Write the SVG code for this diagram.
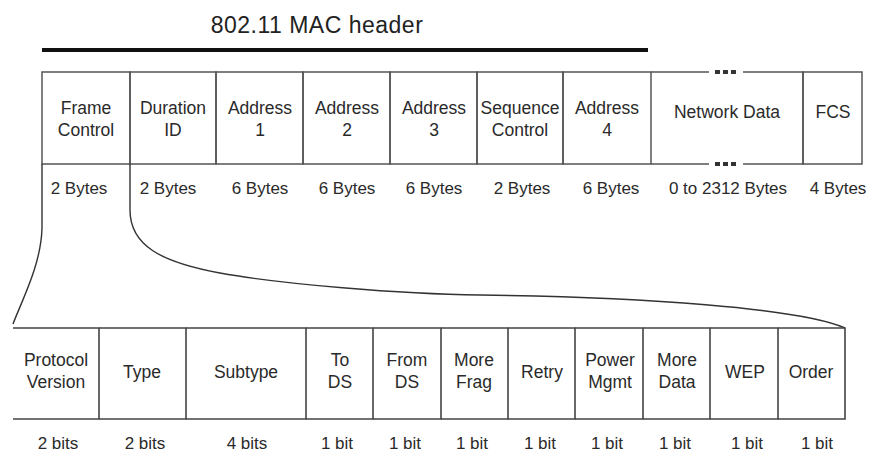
<svg xmlns="http://www.w3.org/2000/svg" width="870" height="452" viewBox="0 0 870 452">
<style>
.bg{fill:#ffffff}
.cell{fill:none;stroke:#555;stroke-width:1.5}
.div{fill:none;stroke:#444;stroke-width:1.6}
.t{font-family:"Liberation Sans",Arial,sans-serif;font-size:17.5px;fill:#2a2a2a;text-anchor:middle}
.s{font-family:"Liberation Sans",Arial,sans-serif;font-size:17px;fill:#2a2a2a;text-anchor:middle}
.title{font-family:"Liberation Sans",Arial,sans-serif;font-size:23px;fill:#222;text-anchor:middle;letter-spacing:0.5px}
.conn{fill:none;stroke:#333;stroke-width:1.4}
.dot{fill:#333}
</style>
<rect class="bg" x="0" y="0" width="870" height="452"/>

<g id="header-label">
<text class="title" x="317" y="33">802.11 MAC header</text>
<rect x="42" y="48" width="606" height="4" fill="#111"/>
</g>

<g id="frame-control">
<rect class="cell" x="42" y="72" width="88" height="92"/>
<text class="t" x="86" y="114">Frame</text>
<text class="t" x="86" y="136">Control</text>
<text class="s" x="79" y="194">2 Bytes</text>
</g>
<g id="duration-id">
<rect class="cell" x="130" y="72" width="86" height="92"/>
<text class="t" x="173" y="114">Duration</text>
<text class="t" x="173" y="136">ID</text>
<text class="s" x="168" y="194">2 Bytes</text>
</g>
<g id="address-1">
<rect class="cell" x="216" y="72" width="87" height="92"/>
<text class="t" x="260" y="114">Address</text>
<text class="t" x="260" y="136">1</text>
<text class="s" x="260" y="194">6 Bytes</text>
</g>
<g id="address-2">
<rect class="cell" x="303" y="72" width="87" height="92"/>
<text class="t" x="347" y="114">Address</text>
<text class="t" x="347" y="136">2</text>
<text class="s" x="347" y="194">6 Bytes</text>
</g>
<g id="address-3">
<rect class="cell" x="390" y="72" width="87" height="92"/>
<text class="t" x="434" y="114">Address</text>
<text class="t" x="434" y="136">3</text>
<text class="s" x="434" y="194">6 Bytes</text>
</g>
<g id="sequence-control">
<rect class="cell" x="477" y="72" width="86" height="92"/>
<text class="t" x="520" y="114">Sequence</text>
<text class="t" x="520" y="136">Control</text>
<text class="s" x="522" y="194">2 Bytes</text>
</g>
<g id="address-4">
<rect class="cell" x="563" y="72" width="88" height="92"/>
<text class="t" x="607" y="114">Address</text>
<text class="t" x="607" y="136">4</text>
<text class="s" x="611" y="194">6 Bytes</text>
</g>
<g id="network-data">
<path class="cell" d="M651,72 H709 M743,72 H803 V164 H743 M709,164 H651"/>
<rect class="dot" x="715" y="70" width="5" height="4"/>
<rect class="dot" x="723" y="70" width="5" height="4"/>
<rect class="dot" x="731" y="70" width="5" height="4"/>
<rect class="dot" x="715" y="162" width="5" height="4"/>
<rect class="dot" x="723" y="162" width="5" height="4"/>
<rect class="dot" x="731" y="162" width="5" height="4"/>
<text class="t" x="727" y="118">Network Data</text>
<text class="s" x="728" y="194">0 to 2312 Bytes</text>
</g>
<g id="fcs">
<rect class="cell" x="803" y="72" width="59" height="92"/>
<text class="t" x="833" y="118">FCS</text>
<text class="s" x="838" y="194">4 Bytes</text>
</g>

<g id="connectors">
<path class="conn" d="M42,164 V228 C41,265 22,300 13,324"/>
<path class="conn" d="M130,164 V210 C130,245 160,262 220,273 C280,284 400,294 480,295 C640,297 800,308 845,328"/>
</g>

<g id="protocol-version">
<path class="div" d="M13,328 H99 V419 H13"/>
<text class="t" x="56" y="366">Protocol</text>
<text class="t" x="56" y="388">Version</text>
<text class="s" x="58" y="449">2 bits</text>
</g>
<g id="type">
<path class="div" d="M99,328 H186 V419 H99"/>
<text class="t" x="142" y="378">Type</text>
<text class="s" x="145" y="449">2 bits</text>
</g>
<g id="subtype">
<path class="div" d="M186,328 H306 V419 H186"/>
<text class="t" x="246" y="378">Subtype</text>
<text class="s" x="247" y="449">4 bits</text>
</g>
<g id="to-ds">
<path class="div" d="M306,328 H373 V419 H306"/>
<text class="t" x="340" y="366">To</text>
<text class="t" x="340" y="388">DS</text>
<text class="s" x="337" y="449">1 bit</text>
</g>
<g id="from-ds">
<path class="div" d="M373,328 H441 V419 H373"/>
<text class="t" x="407" y="366">From</text>
<text class="t" x="407" y="388">DS</text>
<text class="s" x="405" y="449">1 bit</text>
</g>
<g id="more-frag">
<path class="div" d="M441,328 H508 V419 H441"/>
<text class="t" x="474" y="366">More</text>
<text class="t" x="474" y="388">Frag</text>
<text class="s" x="472" y="449">1 bit</text>
</g>
<g id="retry">
<path class="div" d="M508,328 H575 V419 H508"/>
<text class="t" x="542" y="378">Retry</text>
<text class="s" x="540" y="449">1 bit</text>
</g>
<g id="power-mgmt">
<path class="div" d="M575,328 H643 V419 H575"/>
<text class="t" x="610" y="366">Power</text>
<text class="t" x="610" y="388">Mgmt</text>
<text class="s" x="607" y="449">1 bit</text>
</g>
<g id="more-data">
<path class="div" d="M643,328 H710 V419 H643"/>
<text class="t" x="677" y="366">More</text>
<text class="t" x="677" y="388">Data</text>
<text class="s" x="675" y="449">1 bit</text>
</g>
<g id="wep">
<path class="div" d="M710,328 H778 V419 H710"/>
<text class="t" x="745" y="378">WEP</text>
<text class="s" x="747" y="449">1 bit</text>
</g>
<g id="order">
<path class="div" d="M778,328 H845 V419 H778"/>
<text class="t" x="811" y="378">Order</text>
<text class="s" x="817" y="449">1 bit</text>
</g>
</svg>
